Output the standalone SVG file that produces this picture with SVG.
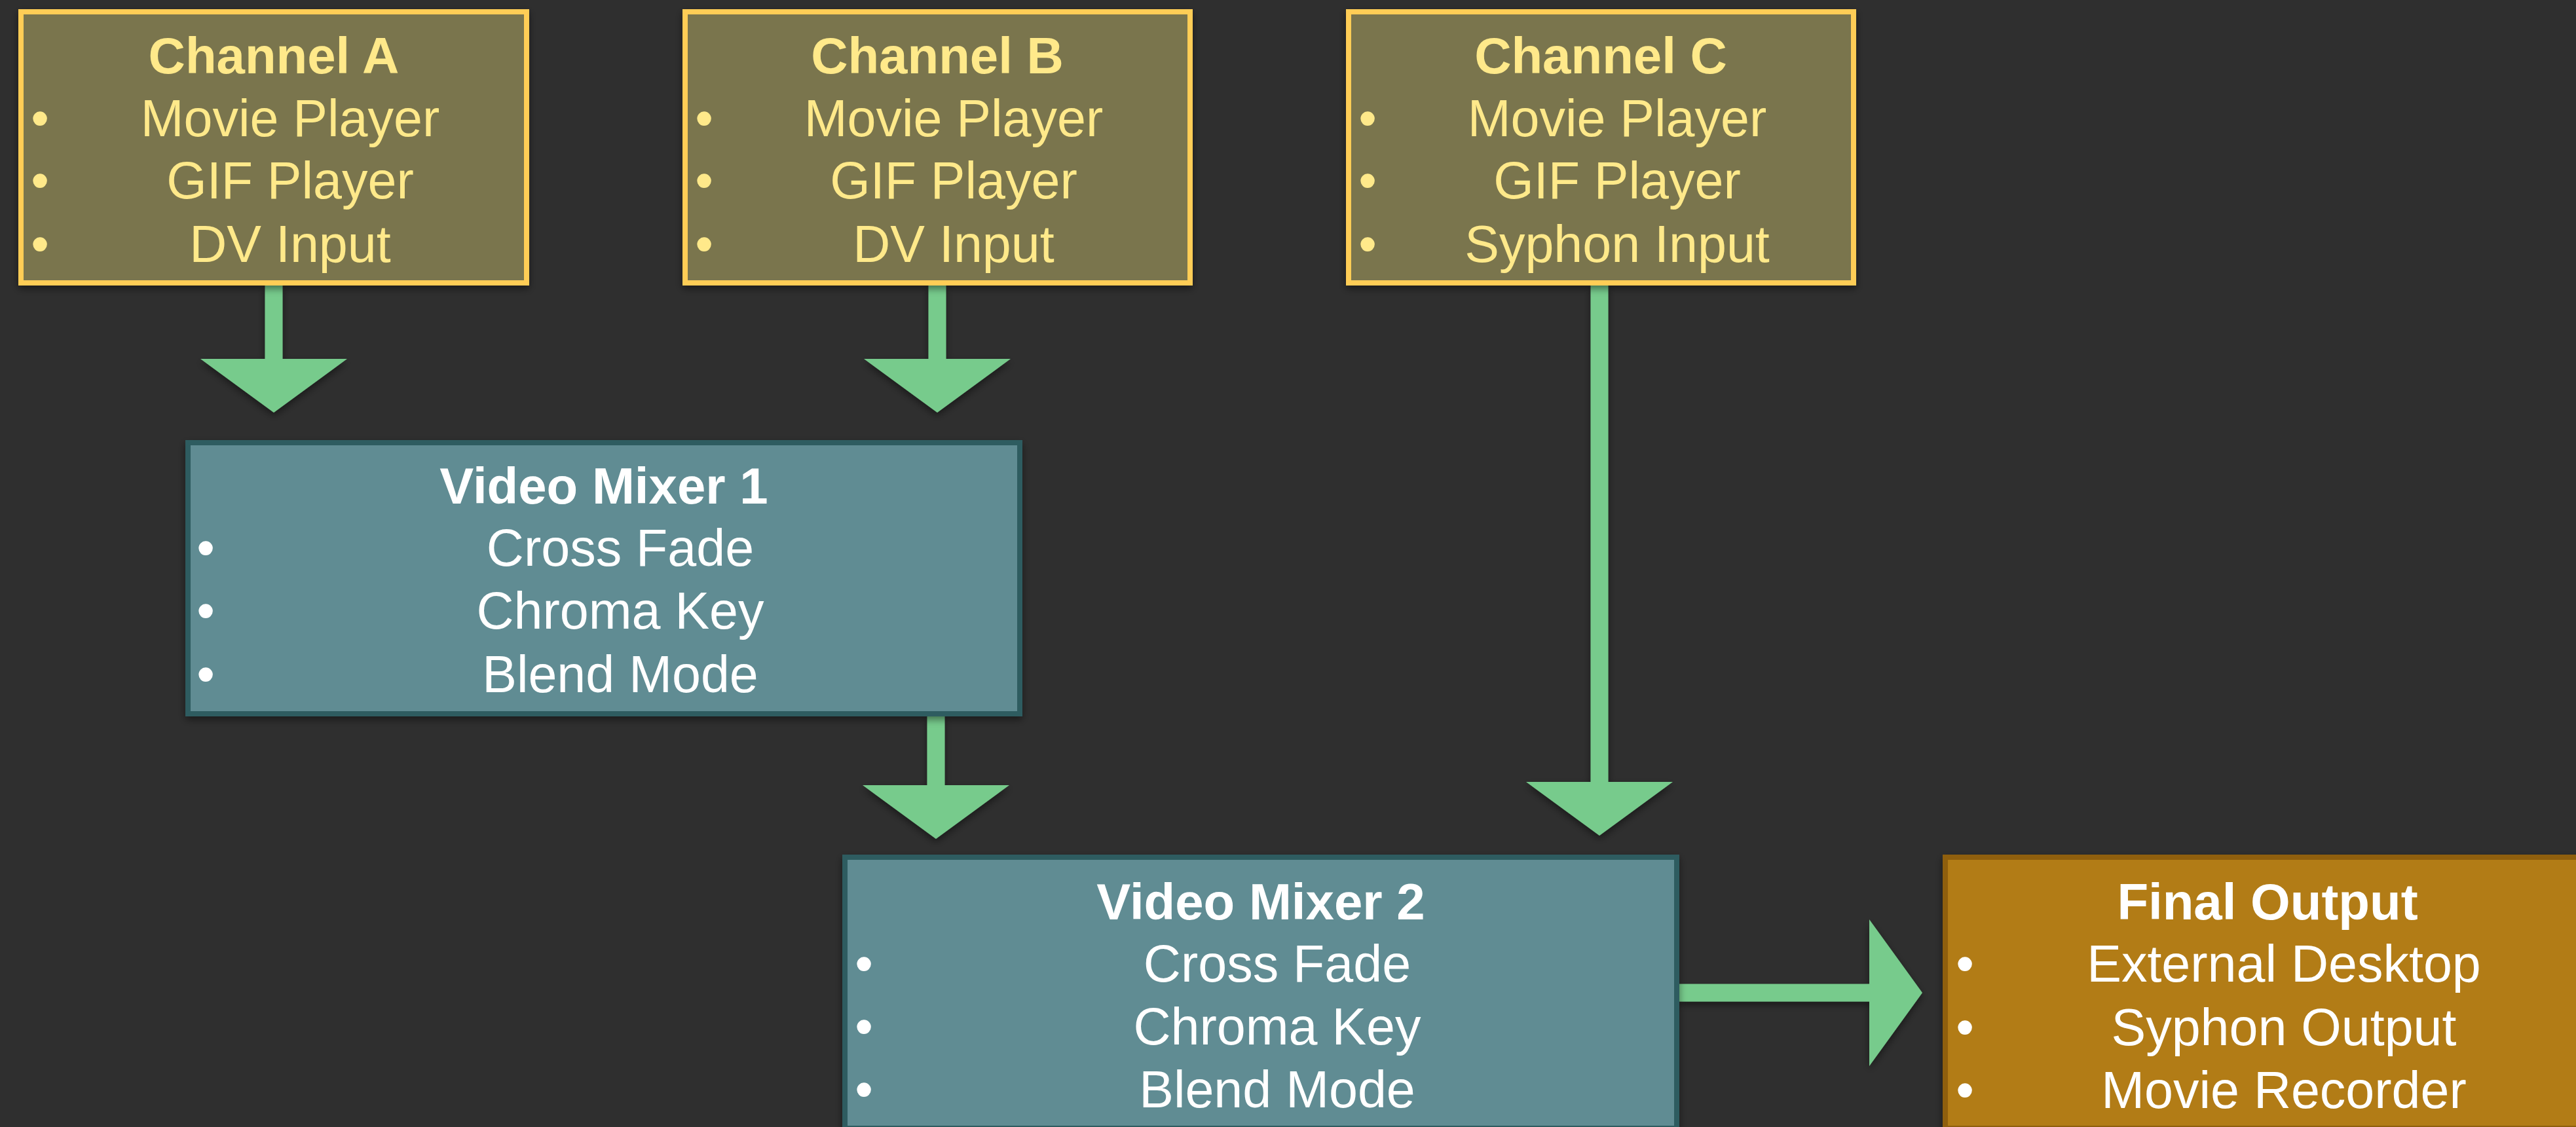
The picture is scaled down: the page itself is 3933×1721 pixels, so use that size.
<svg xmlns="http://www.w3.org/2000/svg" width="3933" height="1721" viewBox="0 0 3933 1721">
<defs>
<filter id="sh" x="-10%" y="-10%" width="120%" height="130%">
<feDropShadow dx="0" dy="5" stdDeviation="6" flood-color="#000" flood-opacity="0.45"/>
</filter>
</defs>
<style>
.ch rect{fill:#7a744d;stroke:#ffcd57;stroke-width:8}
.mx rect{fill:#618c93;stroke:#2f5b61;stroke-width:8}
.out rect{fill:#b27b13;stroke:#8f5e0e;stroke-width:8}
.t{font-family:"Liberation Sans",Arial,sans-serif;font-weight:bold;font-size:78px;text-anchor:middle}
.i{font-family:"Liberation Sans",Arial,sans-serif;font-size:79px;text-anchor:middle}
.ch text{fill:#ffe98a}
.mx text,.out text{fill:#ffffff}
.arrow{fill:#77cb8c;filter:url(#sh)}
</style>
<rect width="3933" height="1721" fill="#2f2f2f"/>

<g id="connectors">
<polygon class="arrow" points="404.5,436 431.5,436 431.5,548 530,548 418,630 306,548 404.5,548"/>
<polygon class="arrow" points="1417.5,436 1444.5,436 1444.5,548 1543,548 1431,630 1319,548 1417.5,548"/>
<polygon class="arrow" points="1415.5,1094 1442.5,1094 1442.5,1199 1541,1199 1429,1281 1317,1199 1415.5,1199"/>
<polygon class="arrow" points="2428.5,436 2455.5,436 2455.5,1194 2554,1194 2442,1276 2330,1194 2428.5,1194"/>
<polygon class="arrow" points="2564,1502.5 2854,1502.5 2854,1404 2935,1516 2854,1628 2854,1529.5 2564,1529.5"/>
</g>

<g id="channelA" class="ch">
<rect x="32" y="18" width="772" height="414" filter="url(#sh)"/>
<text class="t" x="418" y="112">Channel A</text>
<text class="i" x="61" y="208">•</text><text class="i" x="443" y="208">Movie Player</text>
<text class="i" x="61" y="303">•</text><text class="i" x="443" y="303">GIF Player</text>
<text class="i" x="61" y="400">•</text><text class="i" x="443" y="400">DV Input</text>
</g>

<g id="channelB" class="ch">
<rect x="1046" y="18" width="771" height="414" filter="url(#sh)"/>
<text class="t" x="1431" y="112">Channel B</text>
<text class="i" x="1075" y="208">•</text><text class="i" x="1456" y="208">Movie Player</text>
<text class="i" x="1075" y="303">•</text><text class="i" x="1456" y="303">GIF Player</text>
<text class="i" x="1075" y="400">•</text><text class="i" x="1456" y="400">DV Input</text>
</g>

<g id="channelC" class="ch">
<rect x="2059" y="18" width="771" height="414" filter="url(#sh)"/>
<text class="t" x="2444" y="112">Channel C</text>
<text class="i" x="2088" y="208">•</text><text class="i" x="2469" y="208">Movie Player</text>
<text class="i" x="2088" y="303">•</text><text class="i" x="2469" y="303">GIF Player</text>
<text class="i" x="2088" y="400">•</text><text class="i" x="2469" y="400">Syphon Input</text>
</g>

<g id="mixer1" class="mx">
<rect x="287" y="676" width="1270" height="414" filter="url(#sh)"/>
<text class="t" x="922" y="769">Video Mixer 1</text>
<text class="i" x="314" y="864">•</text><text class="i" x="947" y="864">Cross Fade</text>
<text class="i" x="314" y="960">•</text><text class="i" x="947" y="960">Chroma Key</text>
<text class="i" x="314" y="1057">•</text><text class="i" x="947" y="1057">Blend Mode</text>
</g>

<g id="mixer2" class="mx">
<rect x="1290" y="1309" width="1270" height="414" filter="url(#sh)"/>
<text class="t" x="1925" y="1404">Video Mixer 2</text>
<text class="i" x="1319" y="1499">•</text><text class="i" x="1950" y="1499">Cross Fade</text>
<text class="i" x="1319" y="1595">•</text><text class="i" x="1950" y="1595">Chroma Key</text>
<text class="i" x="1319" y="1691">•</text><text class="i" x="1950" y="1691">Blend Mode</text>
</g>

<g id="finalOutput" class="out">
<rect x="2970" y="1309" width="984" height="414" filter="url(#sh)"/>
<text class="t" x="3462" y="1404">Final Output</text>
<text class="i" x="3000" y="1499">•</text><text class="i" x="3487" y="1499">External Desktop</text>
<text class="i" x="3000" y="1596">•</text><text class="i" x="3487" y="1596">Syphon Output</text>
<text class="i" x="3000" y="1692">•</text><text class="i" x="3487" y="1692">Movie Recorder</text>
</g>
</svg>
